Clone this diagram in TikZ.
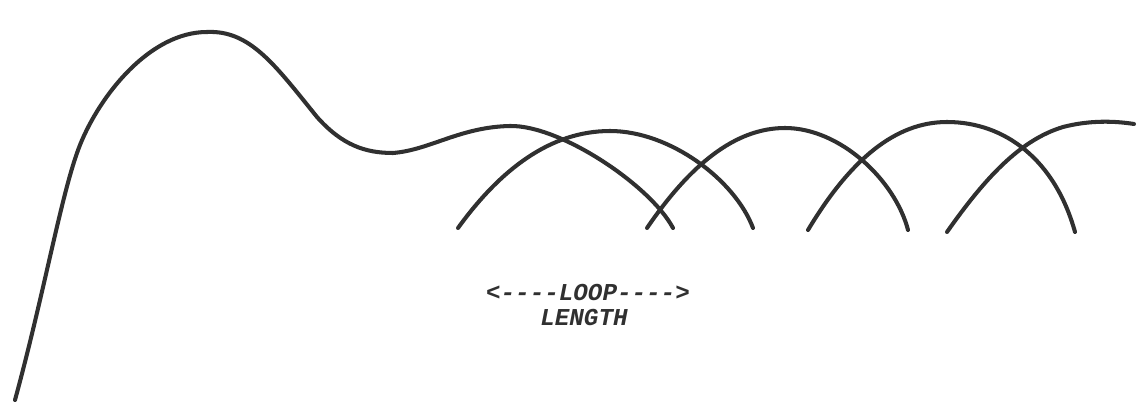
\documentclass[tikz,border=0pt]{standalone}
\usepackage{fontspec}
\setmonofont{Liberation Mono}
\usetikzlibrary{positioning}
\definecolor{loopInk}{RGB}{48, 48, 48}

\begin{document}
\begin{tikzpicture}[x=0.02cm, y=-0.02cm, every node/.style={font=\ttfamily\bfseries\itshape\fontsize{13.8}{16}\selectfont, text=loopInk, inner sep=0pt}]
    \useasboundingbox (0,0) rectangle (1137,402);
    \tikzset{coil/.style={draw=loopInk, line width=2.3pt, line cap=round}}
    % lead-in wire
    \draw[coil]
        (15,400) .. controls (45,290) and (62,190) .. (80,145)
        .. controls (100,95) and (150,32) .. (207,32)
        .. controls (250,30) and (275,65) .. (317,117)
        .. controls (342,145) and (365,153) .. (393,153)
        .. controls (430,150) and (460,127) .. (510,126)
        .. controls (560,125) and (650,185) .. (673,228);
    % loops
    \draw[coil]
        (458,228) .. controls (500,170) and (550,131) .. (610,131)
        .. controls (670,131) and (735,180) .. (753,228);
    \draw[coil]
        (647,228) .. controls (690,165) and (735,128) .. (785,128)
        .. controls (840,128) and (895,180) .. (908,230);
    \draw[coil]
        (808,230) .. controls (850,160) and (895,122) .. (947,122)
        .. controls (1005,122) and (1055,160) .. (1075,232);
    \draw[coil]
        (947,232) .. controls (985,178) and (1020,140) .. (1063,127)
        .. controls (1090,120) and (1115,121) .. (1134,124);
    \node (looparrow) at (588,293) {<----LOOP---->};
    \node (looplength) at (584,318) {LENGTH};
\end{tikzpicture}
\end{document}
